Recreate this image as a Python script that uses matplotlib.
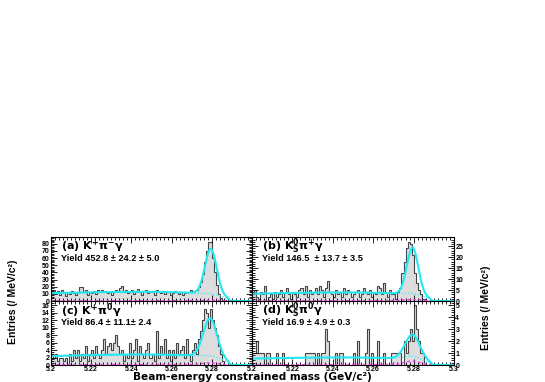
import numpy as np
import matplotlib
matplotlib.use("Agg")
import matplotlib.pyplot as plt
from matplotlib.ticker import MultipleLocator, FuncFormatter

plt.rcParams['font.family'] = ['Liberation Sans', 'DejaVu Sans']
plt.rcParams['font.weight'] = 'bold'
plt.rcParams['mathtext.fontset'] = 'custom'
plt.rcParams['mathtext.rm'] = 'DejaVu Sans:bold'
plt.rcParams['mathtext.it'] = 'DejaVu Sans:bold'
plt.rcParams['mathtext.bf'] = 'DejaVu Sans:bold'

# 1 MeV bins from 5.200 to 5.300 GeV
edges = np.round(np.linspace(5.2, 5.3, 101), 4)

counts_a = [13, 16, 11, 14, 9, 15, 12, 7, 13, 10,
            14, 11, 8, 13, 20, 19, 12, 15, 9, 12,
            11, 14, 10, 16, 13, 15, 12, 14, 11, 13,
            9, 12, 15, 14, 18, 21, 13, 16, 11, 12,
            15, 10, 13, 17, 12, 8, 14, 16, 11, 13,
            12, 9, 15, 13, 11, 14, 10, 12, 13, 9,
            11, 14, 12, 10, 13, 9, 11, 13, 12, 16,
            13, 14, 16, 20, 27, 38, 55, 70, 83, 83,
            60, 40, 22, 10, 4, 2, 1, 0, 0, 0,
            0, 0, 0, 0, 0, 0, 0, 0, 0, 0]

counts_b = [3, 5, 2, 1, 4, 3, 7, 0, 2, 3,
            1, 4, 2, 3, 5, 2, 4, 6, 3, 1,
            4, 3, 2, 5, 6, 3, 7, 2, 5, 3,
            4, 6, 3, 7, 5, 2, 6, 9, 4, 3,
            2, 5, 3, 4, 2, 6, 3, 5, 4, 2,
            3, 4, 5, 2, 3, 6, 4, 3, 5, 2,
            4, 3, 7, 6, 3, 8, 4, 2, 5, 3,
            3, 1, 4, 6, 13, 18, 24, 27, 26, 21,
            13, 8, 5, 3, 1, 1, 0, 0, 0, 0,
            0, 0, 0, 0, 0, 0, 0, 0, 0, 0]

counts_c = [3, 2, 3, 1, 2, 2, 1, 2, 0, 3,
            1, 4, 2, 4, 1, 3, 2, 5, 1, 3,
            4, 2, 5, 3, 2, 4, 7, 3, 5, 6,
            4, 6, 8, 5, 3, 4, 1, 3, 2, 6,
            2, 4, 7, 1, 5, 3, 2, 4, 6, 2,
            3, 1, 9, 2, 5, 3, 7, 2, 4, 1,
            4, 2, 6, 3, 4, 5, 2, 7, 3, 1,
            4, 6, 3, 7, 9, 12, 15, 14, 10, 15,
            12, 10, 8, 5, 3, 1, 0, 0, 0, 0,
            0, 0, 0, 0, 0, 0, 0, 0, 0, 0]

counts_d = [1, 1, 2, 1, 1, 1, 0, 1, 1, 0,
            0, 0, 1, 0, 0, 1, 0, 0, 0, 0,
            0, 0, 0, 0, 0, 0, 1, 1, 1, 1,
            1, 0, 1, 0, 1, 1, 3, 2, 0, 0,
            0, 1, 0, 1, 1, 0, 0, 0, 0, 0,
            1, 0, 2, 0, 0, 0, 1, 3, 0, 1,
            0, 0, 2, 0, 0, 1, 0, 0, 0, 1,
            1, 1, 1, 1, 0, 2, 1, 2, 3, 2,
            5, 3, 2, 1, 1, 0, 0, 0, 0, 0,
            0, 0, 0, 0, 0, 0, 0, 0, 0, 0]

labels = [r"(a) K$^{+}\pi^{-}\gamma$", r"(b) K$^{0}_{S}\pi^{+}\gamma$",
          r"(c) K$^{+}\pi^{0}\gamma$", r"(d) K$^{0}_{S}\pi^{0}\gamma$"]
yields = ["Yield 452.8 \u00b1 24.2 \u00b1 5.0", "Yield 146.5  \u00b1 13.7 \u00b1 3.5",
          "Yield 86.4 \u00b1 11.1\u00b1 2.4", "Yield 16.9 \u00b1 4.9 \u00b1 0.3"]

# fit parameters: background level, signal peak, mean, sigma,
# peaking-background (flat part, bump)
bg_level = [12.5, 3.8, 2.7, 0.6]
sig_peak = [63.0, 21.0, 10.0, 1.8]
sig_mean = [5.2795, 5.2795, 5.2792, 5.2795]
sig_width = [0.0029, 0.0028, 0.0034, 0.0036]
pk_flat = [0.3, 0.1, 0.1, 0.03]
pk_bump = [1.0, 0.7, 0.5, 0.3]

ylims = [89.5, 29.2, 17.1, 5.35]
ymajor = [10, 5, 2, 1]
yminor = [2, 1, 0.5, 0.2]

m0 = 5.289
def argus(m, c=-30.0):
    z = 1 - (m / m0) ** 2
    return np.where(z > 0, m * np.sqrt(np.clip(z, 0, None)) * np.exp(c * z), 0.0)

fig = plt.figure(figsize=(5.45, 3.82), dpi=100)
W = 545.0
H = 382.0
rects = [[51 / W, (H - 301) / H, 201 / W, 64 / H],
         [252 / W, (H - 301) / H, 202 / W, 64 / H],
         [51 / W, (H - 365) / H, 201 / W, 64 / H],
         [252 / W, (H - 365) / H, 202 / W, 64 / H]]
all_counts = [counts_a, counts_b, counts_c, counts_d]

xs = np.linspace(5.2, 5.3, 600)
fmt = FuncFormatter(lambda v, p: f"{v:g}")

for i in range(4):
    ax = fig.add_axes(rects[i])
    cnt = np.array(all_counts[i])
    ax.stairs(cnt, edges, fill=True, color='#dddddd', lw=0)
    ax.stairs(cnt, edges, color='#444444', lw=0.8)

    a_norm = argus(xs) / argus(np.array([5.24]))[0]
    gauss = np.exp(-0.5 * ((xs - sig_mean[i]) / sig_width[i]) ** 2)
    bump = np.exp(-0.5 * ((xs - 5.279) / 0.004) ** 2)
    peaking = pk_flat[i] * a_norm + pk_bump[i] * bump
    bkg = bg_level[i] * a_norm + peaking
    total = bkg + sig_peak[i] * gauss
    ax.plot(xs, peaking, color='#ff33ff', lw=1.0, ls=(0, (2, 2)))
    ax.plot(xs, bkg, color='#33eeff', lw=0.9, ls=(0, (1, 1.5)))
    ax.plot(xs, total, color='#22e8f2', lw=1.5)

    ax.set_xlim(5.2, 5.3)
    ax.set_ylim(0, ylims[i])
    ax.xaxis.set_major_locator(MultipleLocator(0.02))
    ax.xaxis.set_minor_locator(MultipleLocator(0.002))
    ax.yaxis.set_major_locator(MultipleLocator(ymajor[i]))
    ax.yaxis.set_minor_locator(MultipleLocator(yminor[i]))
    ax.xaxis.set_major_formatter(fmt)
    ax.tick_params(which='both', direction='in', top=True, right=True,
                   labelsize=5, width=0.6, pad=1)
    ax.tick_params(axis='x', pad=0.5)
    ax.tick_params(which='major', length=4)
    ax.tick_params(which='minor', length=2)
    if i in (1, 3):
        ax.tick_params(labelleft=False, labelright=True)
    if i in (0, 1):
        ax.tick_params(labelbottom=False)
    if i == 2:
        ax.set_xticks([5.2, 5.22, 5.24, 5.26, 5.28])
    for s in ax.spines.values():
        s.set_linewidth(0.8)
    for lab in ax.get_xticklabels() + ax.get_yticklabels():
        lab.set_fontweight('bold')

    ax.text(0.05, 0.85, labels[i], transform=ax.transAxes, fontsize=8,
            fontweight='bold', va='center', ha='left', family='DejaVu Sans')
    ax.text(0.05, 0.67, yields[i], transform=ax.transAxes, fontsize=6.6,
            fontweight='bold', va='center', ha='left')

fig.text(252 / W, 1 - 380 / H, "Beam-energy constrained mass (GeV/c\u00b2)",
         fontsize=7.6, fontweight='bold', ha='center', va='baseline',
         family='DejaVu Sans')
ylab = "Entries (/ MeV/c\u00b2)"
fig.text(13 / W, 1 - 302 / H, ylab, rotation=90, fontsize=7.5, ha='center',
         va='center', family=['Liberation Sans Narrow', 'Liberation Sans'])
fig.text(486 / W, 1 - 308 / H, ylab, rotation=90, fontsize=7.5, ha='center',
         va='center', family=['Liberation Sans Narrow', 'Liberation Sans'])

fig.savefig("out.png", dpi=100)
